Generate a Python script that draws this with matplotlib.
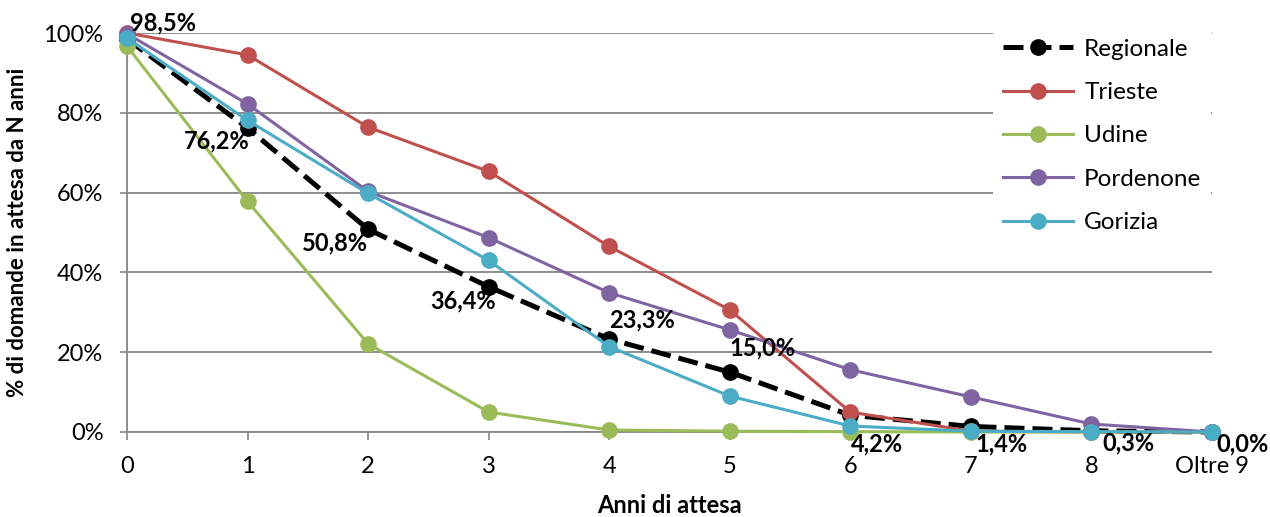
import matplotlib
matplotlib.use("Agg")
import matplotlib.pyplot as plt
from matplotlib.ticker import FuncFormatter

categories = ["0", "1", "2", "3", "4", "5", "6", "7", "8", "Oltre 9"]
regionale = [98.5, 76.2, 50.8, 36.4, 23.3, 15.0, 4.2, 1.4, 0.3, 0.0]
trieste = [100.0, 94.5, 76.4, 65.3, 46.5, 30.6, 5.0, 0.2, 0.0, 0.0]
udine = [96.7, 57.8, 22.1, 5.0, 0.5, 0.2, 0.1, 0.0, 0.0, 0.0]
pordenone = [99.8, 82.2, 60.3, 48.7, 34.9, 25.6, 15.6, 8.8, 2.0, 0.0]
gorizia = [98.7, 78.1, 59.8, 43.0, 21.4, 9.0, 1.5, 0.2, 0.1, 0.0]
regionale_labels = ["98,5%", "76,2%", "50,8%", "36,4%", "23,3%", "15,0%", "4,2%", "1,4%", "0,3%", "0,0%"]

plt.rcParams['font.family'] = ['Lato', 'DejaVu Sans']

fig = plt.figure(figsize=(12.7, 5.17), dpi=100)
ax = fig.add_axes([127/1270, 1-432/517, (1212-127)/1270, (432-33)/517])

x = list(range(len(categories)))
grid_c = "#868686"

ax.plot(x, regionale, color="black", lw=3.6, dashes=(4, 1.6), marker="o", ms=11, label="Regionale", zorder=3, clip_on=False)
ax.plot(x, trieste, color="#C0504D", lw=2.2, marker="o", ms=11, label="Trieste", zorder=4, clip_on=False)
ax.plot(x, udine, color="#9BBB59", lw=2.2, marker="o", ms=11, label="Udine", zorder=4, clip_on=False)
ax.plot(x, pordenone, color="#8064A2", lw=2.2, marker="o", ms=11, label="Pordenone", zorder=4, clip_on=False)
ax.plot(x, gorizia, color="#4BACC6", lw=2.2, marker="o", ms=11, label="Gorizia", zorder=4, clip_on=False)

# data labels for Regionale (offsets in pixels)
offsets = [(3, 5, 'left', 'bottom'), (2, -1, 'right', 'top'), (0, -2, 'right', 'top'), (7, -3, 'right', 'top'),
           (0, 8, 'left', 'bottom'), (0, 13, 'left', 'bottom'), (1, -17, 'left', 'top'), (5, -6, 'left', 'top'),
           (11, -1, 'left', 'top'), (4, 0, 'left', 'top')]
for xi, yi, lab, (dx, dy, ha, va) in zip(x, regionale, regionale_labels, offsets):
    ax.annotate(lab, (xi, yi), xytext=(dx, dy), textcoords="offset pixels", ha=ha, va=va,
                fontsize=17, fontweight="bold", color="black", zorder=6, annotation_clip=False)

ax.set_xlim(0, 9)
ax.set_ylim(0, 100)
ax.set_xticks(x)
ax.set_xticklabels(categories, fontsize=17)
ax.set_yticks([0, 20, 40, 60, 80, 100])
ax.yaxis.set_major_formatter(FuncFormatter(lambda v, p: f"{int(v)}%"))
ax.tick_params(axis="y", labelsize=17, length=5, color=grid_c, width=1.2, pad=12)
ax.tick_params(axis="x", length=6, color=grid_c, width=1.2, pad=11.5)
ax.grid(axis="y", color=grid_c, lw=1.3)
ax.set_axisbelow(True)
for s in ["top", "right"]:
    ax.spines[s].set_visible(False)
for s in ["left", "bottom"]:
    ax.spines[s].set_color(grid_c)
    ax.spines[s].set_linewidth(1.3)

ax.set_xlabel("Anni di attesa", fontsize=17, fontweight="bold", labelpad=12)
ax.set_ylabel("% di domande in attesa da N anni", fontsize=16, fontweight="bold", labelpad=11)

leg = fig.legend(*ax.get_legend_handles_labels(), loc="upper left",
                 bbox_to_anchor=(993/1270, 1-29/517), bbox_transform=fig.transFigure,
                 frameon=True, fontsize=17.5, handlelength=2.9, labelspacing=0.92,
                 borderaxespad=0, borderpad=0.4, handletextpad=0.45, fancybox=False)
leg.get_frame().set_edgecolor("white")
leg.get_frame().set_facecolor("white")
leg.get_frame().set_alpha(1)
leg.get_frame().set_linewidth(0)
leg.set_zorder(5)

fig.savefig("out.png", dpi=100)
